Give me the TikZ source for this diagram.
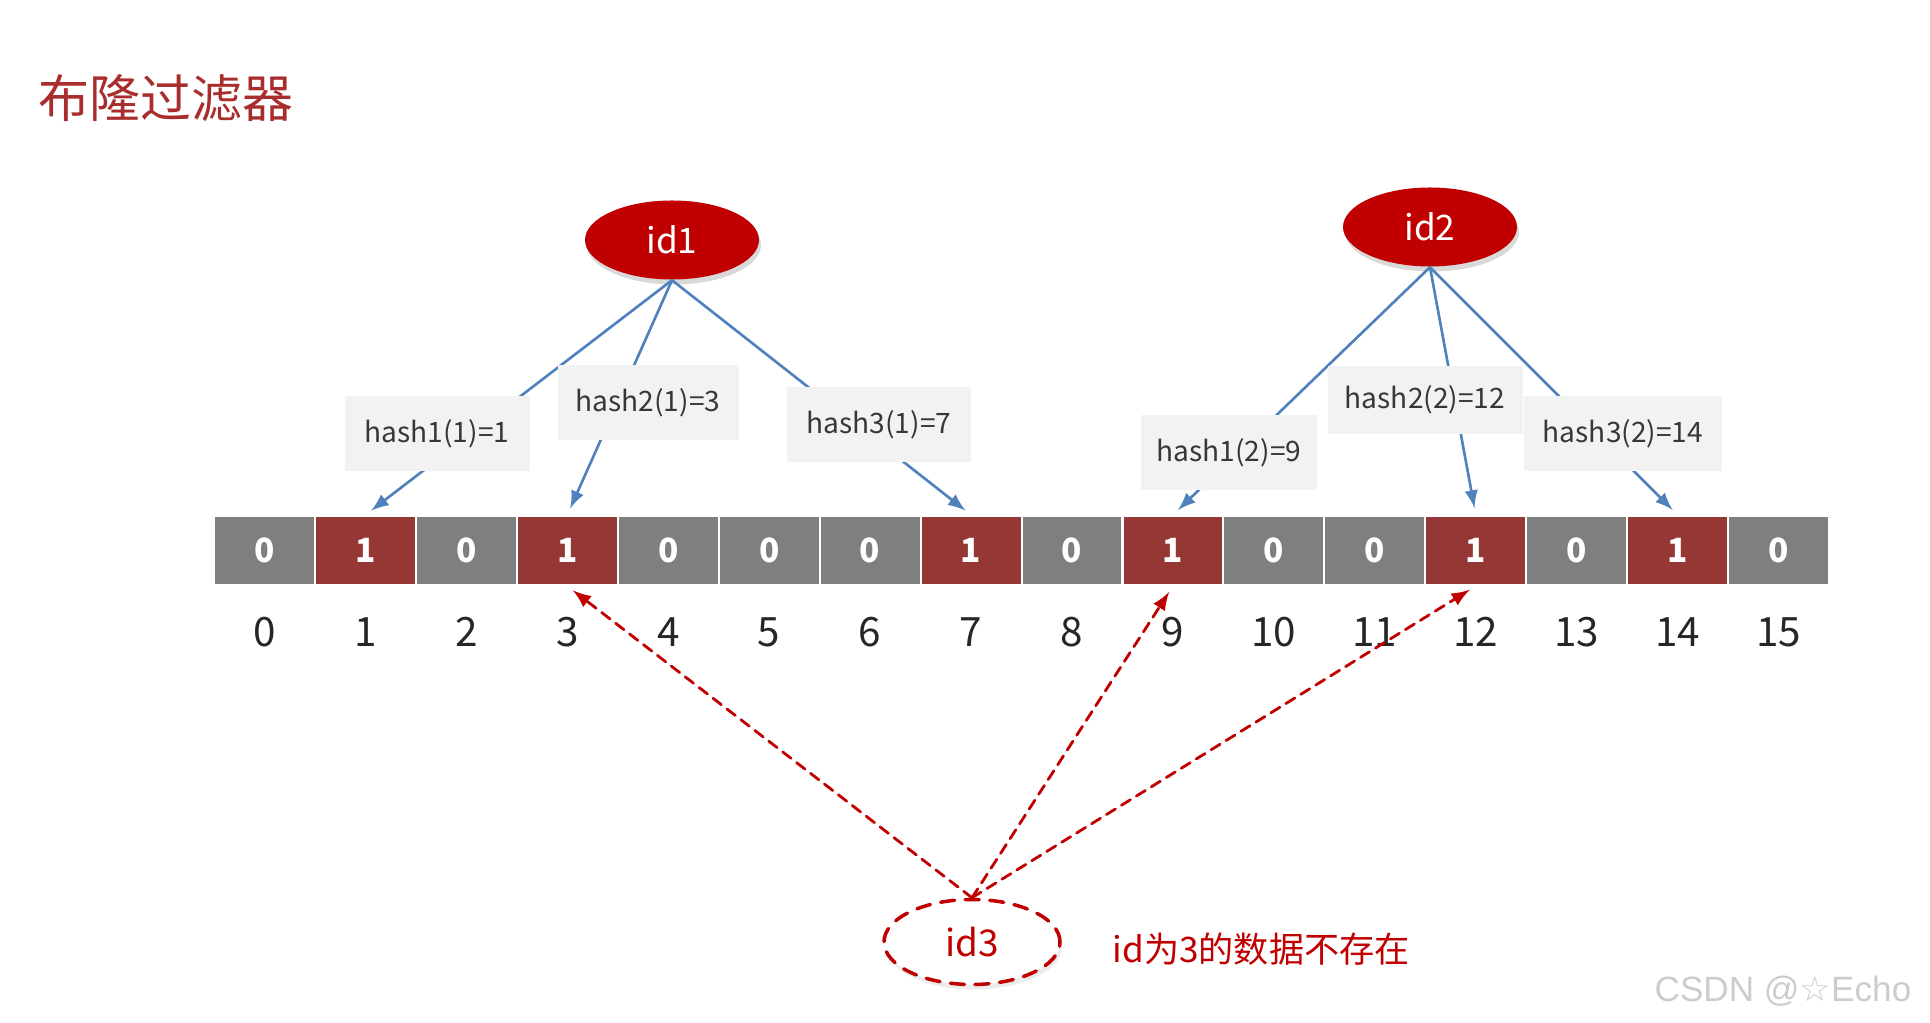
\documentclass[tikz,border=0pt]{standalone}
\usepackage{fontspec}
\setmainfont{Noto Sans CJK SC}
\newfontfamily\wmfont{Liberation Sans}
\newfontfamily\starfont{DejaVu Sans}
\usetikzlibrary{shapes.geometric,shadows}
\definecolor{titlered}{RGB}{170,45,45}
\definecolor{idred}{RGB}{192,0,0}
\definecolor{bit1}{RGB}{149,55,53}
\definecolor{bit0}{RGB}{127,127,127}
\definecolor{hashgray}{RGB}{242,242,242}
\definecolor{linkblue}{RGB}{79,129,189}
\definecolor{txtgray}{RGB}{55,55,55}
\begin{document}
\begin{tikzpicture}[line cap=round,>=latex,
  bit/.style={minimum width=1.0094cm,minimum height=0.69cm,inner sep=0pt,draw=white,line width=0.6pt,text=white,font=\fontsize{9.5}{9.5}\selectfont\bfseries},
  idx/.style={text=black!85,font=\fontsize{11.5}{11.5}\selectfont},
  key/.style={ellipse,fill=idred,minimum width=1.74cm,minimum height=0.79cm,inner sep=0pt,text=white,font=\fontsize{10}{10}\selectfont,drop shadow={opacity=0.3,shadow xshift=0.02cm,shadow yshift=-0.05cm}},
  hashbox/.style={fill=hashgray,inner sep=0pt,minimum height=0.75cm,text=txtgray,font=\fontsize{8}{8}\selectfont},
  link/.style={->,draw=linkblue,line width=0.75pt,shorten >=2pt},
  miss/.style={->,draw=idred,line width=0.8pt,dash pattern=on 3pt off 2pt,shorten >=2pt}]
  \useasboundingbox (0,0) rectangle (19.30,-10.23);
  \node[text=titlered,font=\fontsize{14.5}{14.5}\selectfont] (title) at (1.66,-0.98) {布隆过滤器};
  \foreach \i/\b in {0/0,1/1,2/0,3/1,4/0,5/0,6/0,7/1,8/0,9/1,10/0,11/0,12/1,13/0,14/1,15/0} {
    \node[bit,fill=bit\b] (c\i) at ({2.645+1.0094*\i},-5.505) {\b};
    \node[idx] (n\i) at ({2.645+1.0094*\i},-6.32) {\i};
  }
  \node[key] (id1) at (6.72,-2.40) {id1};
  \node[key] (id2) at (14.30,-2.27) {id2};
  \node[ellipse,draw=idred,fill=white,line width=1pt,dash pattern=on 4pt off 3pt,minimum width=1.76cm,minimum height=0.85cm,inner sep=0pt,text=idred,font=\fontsize{10.5}{10.5}\selectfont,drop shadow={opacity=0.15,shadow xshift=0.02cm,shadow yshift=-0.05cm}] (id3) at (9.72,-9.42) {id3};
  \foreach \k/\t in {id1/1,id1/3,id1/7,id2/9,id2/12,id2/14}
    \draw[link] (\k.south) -- (c\t.north);
  \node[hashbox,minimum width=1.85cm] (h11) at (4.37,-4.34) {hash1(1)=1};
  \node[hashbox,minimum width=1.81cm] (h21) at (6.48,-4.03) {hash2(1)=3};
  \node[hashbox,minimum width=1.84cm] (h31) at (8.79,-4.25) {hash3(1)=7};
  \node[hashbox,minimum width=1.76cm] (h12) at (12.29,-4.53) {hash1(2)=9};
  \node[hashbox,minimum width=1.95cm,minimum height=0.68cm] (h22) at (14.25,-4.00) {hash2(2)=12};
  \node[hashbox,minimum width=1.98cm] (h32) at (16.23,-4.34) {hash3(2)=14};
  \foreach \t in {3,9,12}
    \draw[miss] (id3.north) -- (c\t.south);
  \node[text=idred,font=\fontsize{10}{10}\selectfont,anchor=west,inner sep=0pt] (note) at (11.12,-9.49) {id为3的数据不存在};
  \node[text=black!20,font=\wmfont\fontsize{10}{10}\selectfont,anchor=east,inner sep=0pt] (mark) at (19.12,-9.91) {CSDN @{\starfont ☆}Echo};
\end{tikzpicture}
\end{document}
